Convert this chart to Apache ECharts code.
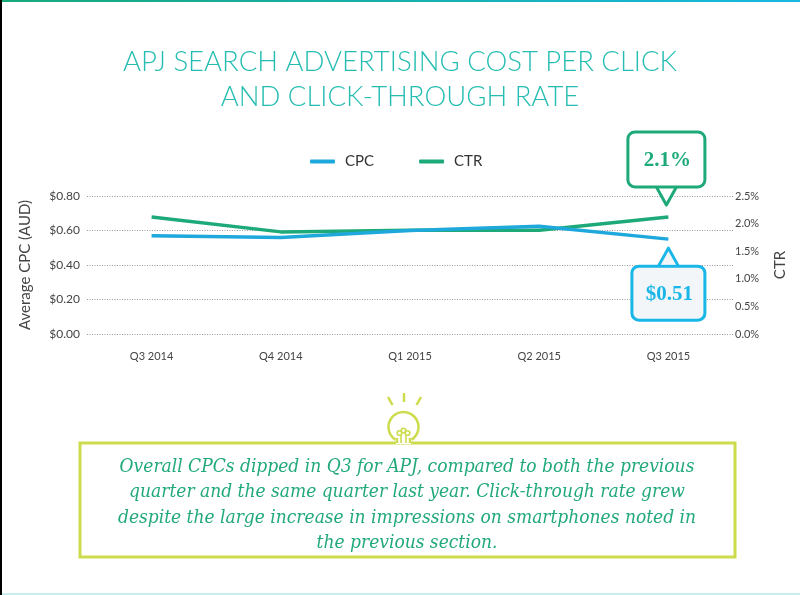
<!DOCTYPE html>
<html>
<head>
<meta charset="utf-8">
<title>APJ CPC and CTR</title>
<script src="https://cdn.jsdelivr.net/npm/echarts@6/dist/echarts.min.js"></script>
<style>
  html, body { margin: 0; padding: 0; background: #fff; }
  #chart { width: 800px; height: 595px; }
</style>
</head>
<body>
<div id="chart"></div>
<script>
// data
var quarters = ['Q3 2014', 'Q4 2014', 'Q1 2015', 'Q2 2015', 'Q3 2015'];
var cpc = [0.57, 0.56, 0.60, 0.625, 0.55];   // AUD, left axis
var ctr = [2.12, 1.85, 1.88, 1.88, 2.12];    // %, right axis
var cpcTicks = [0, 0.8, 0.2];                // min, max, step
var ctrTicks = [0, 2.5, 0.5];
var calloutText = ['$0.51', '2.1%'];         // cpc, ctr (last quarter)
var noteLines = [
  'Overall CPCs dipped in Q3 for APJ, compared to both the previous',
  'quarter and the same quarter last year. Click-through rate grew',
  'despite the large increase in impressions on smartphones noted in',
  'the previous section.'
];

var BLUE = '#1ea8dc';
var GREEN = '#1eaa78';
var CYAN = '#19b6e8';
var LIME = '#cddc4c';

var chart = echarts.init(document.getElementById('chart'));

var option = {
  backgroundColor: '#fff',
  animation: false,
  legend: {
    data: ['CPC', 'CTR'],
    top: 149,
    left: 305,
    icon: 'roundRect',
    itemWidth: 25,
    itemHeight: 4,
    itemGap: 45,
    textStyle: { fontFamily: 'Lato', fontSize: 15, color: '#333', padding: [0, 0, 0, 5] }
  },
  grid: { left: 87, right: 67, top: 196, bottom: 261 },
  xAxis: {
    type: 'category',
    data: quarters,
    boundaryGap: true,
    axisLine: { show: false },
    axisTick: { show: false },
    axisLabel: { margin: 17, fontFamily: 'Lato', fontSize: 11, color: '#444' }
  },
  yAxis: [
    {
      type: 'value',
      min: cpcTicks[0], max: cpcTicks[1], interval: cpcTicks[2],
      name: 'Average CPC (AUD)',
      nameLocation: 'middle',
      nameGap: 54,
      nameTextStyle: { fontFamily: 'Lato', fontSize: 15, color: '#444' },
      axisLine: { show: false },
      axisTick: { show: false },
      axisLabel: {
        margin: 7, fontFamily: 'Lato', fontSize: 12, color: '#444',
        formatter: function (v) { return '$' + v.toFixed(2); }
      },
      splitLine: { lineStyle: { color: '#9a9a9a', type: [1, 1.5], width: 1 } }
    },
    {
      type: 'value',
      min: ctrTicks[0], max: ctrTicks[1], interval: ctrTicks[2],
      name: 'CTR',
      nameLocation: 'middle',
      nameGap: 40,
      nameTextStyle: { fontFamily: 'Lato', fontSize: 15, color: '#444' },
      axisLine: { show: false },
      axisTick: { show: false },
      splitLine: { show: false },
      axisLabel: {
        margin: 2, fontFamily: 'Lato', fontSize: 11, color: '#444',
        formatter: function (v) { return v.toFixed(1) + '%'; }
      }
    }
  ],
  series: [
    {
      name: 'CPC',
      type: 'line',
      yAxisIndex: 0,
      data: cpc,
      symbol: 'none',
      itemStyle: { color: BLUE },
      lineStyle: { color: BLUE, width: 3.5, join: 'round' },
      z: 3
    },
    {
      name: 'CTR',
      type: 'line',
      yAxisIndex: 1,
      data: ctr,
      symbol: 'none',
      itemStyle: { color: GREEN },
      lineStyle: { color: GREEN, width: 3.5, join: 'round' },
      z: 2
    }
  ]
};
chart.setOption(option);

// callouts anchored on the last data points
var last = quarters.length - 1;
var pCtr = chart.convertToPixel({ seriesIndex: 1 }, [last, ctr[last]]);
var pCpc = chart.convertToPixel({ seriesIndex: 0 }, [last, cpc[last]]);

// box + pointer, dir = 1 pointer goes down (box above the tip), -1 up
function bubble(tx, ty, dir, w, h, fill, stroke, label) {
  var edge = ty - dir * 18;             // box edge the pointer comes out of
  var top = dir > 0 ? edge - h : edge;
  var left = tx - w / 2;
  return [
    {
      type: 'rect', z: 10,
      shape: { x: left, y: top, width: w, height: h, r: 7 },
      style: { fill: fill, stroke: stroke, lineWidth: 3 }
    },
    {
      type: 'polygon', z: 11,
      shape: { points: [[tx - 10, edge + dir * 2], [tx + 10, edge + dir * 2], [tx, ty]] },
      style: { fill: fill }
    },
    {
      type: 'polyline', z: 12,
      shape: { points: [[tx - 10, edge], [tx, ty], [tx + 10, edge]] },
      style: { fill: null, stroke: stroke, lineWidth: 3, lineJoin: 'round' }
    },
    {
      type: 'text', z: 13, x: tx + 1, y: top + h / 2 + 1,
      style: {
        text: label, fill: stroke, font: 'bold 21px "Liberation Serif"',
        align: 'center', verticalAlign: 'middle'
      }
    }
  ];
}

var gTip = [pCtr[0] - 2, pCtr[1] - 12];
var bTip = [pCpc[0], pCpc[1] + 9];

var graphics = [
  // frame lines
  {
    type: 'rect', shape: { x: 0, y: 0, width: 800, height: 2 },
    style: { fill: new echarts.graphic.LinearGradient(0, 0, 1, 0, [
      { offset: 0, color: '#17a87a' }, { offset: 1, color: '#16b8e2' }]) }
  },
  { type: 'rect', shape: { x: 0, y: 0, width: 2, height: 595 }, style: { fill: '#000' } },
  { type: 'rect', shape: { x: 2, y: 593, width: 798, height: 2 }, style: { fill: '#c9eef0' } },
  // title
  {
    type: 'text', x: 400, y: 62,
    style: {
      text: 'APJ SEARCH ADVERTISING COST PER CLICK',
      fill: '#25bdb2', font: '300 27.5px Lato', align: 'center', verticalAlign: 'middle'
    }
  },
  {
    type: 'text', x: 400, y: 97,
    style: {
      text: 'AND CLICK-THROUGH RATE',
      fill: '#25bdb2', font: '300 27.5px Lato', align: 'center', verticalAlign: 'middle'
    }
  },
  // note box
  {
    type: 'rect', shape: { x: 80, y: 443, width: 655, height: 114 },
    style: { fill: 'none', stroke: LIME, lineWidth: 3 }
  },
  {
    type: 'text', x: 407, y: 505,
    style: {
      text: noteLines.join('\n'), fill: '#22a97a',
      font: 'italic 19px "DejaVu Serif Condensed", "DejaVu Serif"',
      lineHeight: 25.5, align: 'center', verticalAlign: 'middle'
    }
  },
  // light bulb
  {
    type: 'arc', z: 5,
    shape: { cx: 403.5, cy: 427, r: 15, startAngle: Math.PI * 0.68, endAngle: Math.PI * 2.32 },
    style: { stroke: LIME, lineWidth: 2.5, fill: null }
  },
  { type: 'rect', z: 5, shape: { x: 396, y: 439, width: 15, height: 5 }, style: { fill: '#fff' } },
  { type: 'line', z: 6, shape: { x1: 397, y1: 438, x2: 397, y2: 443 }, style: { stroke: LIME, lineWidth: 2.5 } },
  { type: 'line', z: 6, shape: { x1: 410, y1: 438, x2: 410, y2: 443 }, style: { stroke: LIME, lineWidth: 2.5 } },
  { type: 'circle', z: 6, shape: { cx: 399.5, cy: 433, r: 2.3 }, style: { fill: null, stroke: LIME, lineWidth: 1.6 } },
  { type: 'circle', z: 6, shape: { cx: 403.5, cy: 430.5, r: 2.3 }, style: { fill: null, stroke: LIME, lineWidth: 1.6 } },
  { type: 'circle', z: 6, shape: { cx: 407.5, cy: 433, r: 2.3 }, style: { fill: null, stroke: LIME, lineWidth: 1.6 } },
  { type: 'line', z: 6, shape: { x1: 401, y1: 435, x2: 401, y2: 443 }, style: { stroke: LIME, lineWidth: 1.6 } },
  { type: 'line', z: 6, shape: { x1: 406, y1: 435, x2: 406, y2: 443 }, style: { stroke: LIME, lineWidth: 1.6 } },
  { type: 'line', shape: { x1: 404, y1: 393, x2: 404, y2: 402 }, style: { stroke: LIME, lineWidth: 2.5 } },
  { type: 'line', shape: { x1: 388, y1: 397, x2: 392.5, y2: 405 }, style: { stroke: LIME, lineWidth: 2.5 } },
  { type: 'line', shape: { x1: 421, y1: 397, x2: 416.5, y2: 405 }, style: { stroke: LIME, lineWidth: 2.5 } }
];

graphics = graphics
  .concat(bubble(gTip[0], gTip[1], 1, 77, 55, '#fff', GREEN, calloutText[1]))
  .concat(bubble(bTip[0], bTip[1], -1, 73, 54, '#f3f6f8', CYAN, calloutText[0]));

chart.setOption({ graphic: graphics });
</script>
</body>
</html>
